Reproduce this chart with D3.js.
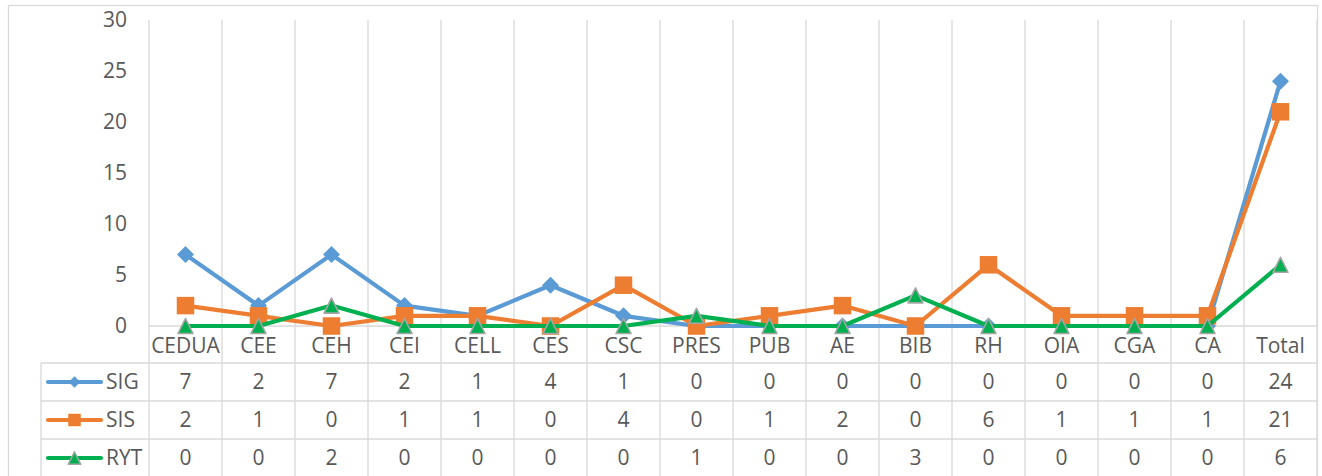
<!DOCTYPE html>
<html>
<head>
<meta charset="utf-8">
<script src="https://cdn.jsdelivr.net/npm/d3@7"></script>
<style>
  html, body { margin: 0; padding: 0; background: #fff; }
  svg { display: block; font-family: "Open Sans", "Noto Sans", sans-serif; }
  .lbl { fill: #595959; font-size: 21px; }
</style>
</head>
<body>
<div id="chart"></div>
<script>
// chart data
const categories = ["CEDUA", "CEE", "CEH", "CEI", "CELL", "CES", "CSC", "PRES", "PUB", "AE", "BIB", "RH", "OIA", "CGA", "CA", "Total"];
const sigValues = [7, 2, 7, 2, 1, 4, 1, 0, 0, 0, 0, 0, 0, 0, 0, 24];
const sisValues = [2, 1, 0, 1, 1, 0, 4, 0, 1, 2, 0, 6, 1, 1, 1, 21];
const rytValues = [0, 0, 2, 0, 0, 0, 0, 1, 0, 0, 3, 0, 0, 0, 0, 6];
const yTicks = [0, 5, 10, 15, 20, 25, 30];

const series = [
  { name: "SIG", values: sigValues, color: "#5B9BD5", marker: "diamond" },
  { name: "SIS", values: sisValues, color: "#ED7D31", marker: "square" },
  { name: "RYT", values: rytValues, color: "#00B050", marker: "triangle" },
];

const width = 1322, height = 476;
const plotLeft = 149, plotRight = 1317, plotTop = 20, plotBottom = 326;
const tableLeft = 41, rowH = 38, labelRowBottom = 363;
const grid = "#D9D9D9";

const svg = d3.select("#chart").append("svg")
  .attr("width", width).attr("height", height)
  .attr("viewBox", [0, 0, width, height]);

// outer chart border
svg.append("rect")
  .attr("x", 8.5).attr("y", 5.5)
  .attr("width", plotRight - 8).attr("height", height + 10)
  .attr("fill", "none").attr("stroke", grid).attr("stroke-width", 1.3);

const x = d3.scaleBand(categories, [plotLeft, plotRight]).padding(0);
const y = d3.scaleLinear([0, 30], [plotBottom, plotTop]);
const cx = (c) => x(c) + x.bandwidth() / 2;

// vertical gridlines (category boundaries), running down through the table
const bounds = categories.map((c) => x(c)).concat([plotRight]);
svg.append("g").selectAll("line").data(bounds).join("line")
  .attr("x1", (d) => d).attr("x2", (d) => d)
  .attr("y1", plotTop).attr("y2", height)
  .attr("stroke", grid).attr("stroke-width", 1.3);

// table horizontal lines
const tableRows = series.map((s, i) => labelRowBottom + i * rowH);
svg.append("g").selectAll("line").data(tableRows.concat([labelRowBottom + 3 * rowH])).join("line")
  .attr("x1", tableLeft).attr("x2", plotRight)
  .attr("y1", (d) => d).attr("y2", (d) => d)
  .attr("stroke", grid).attr("stroke-width", 1.3);
svg.append("line")
  .attr("x1", tableLeft).attr("x2", tableLeft)
  .attr("y1", labelRowBottom).attr("y2", height)
  .attr("stroke", grid).attr("stroke-width", 1.3);

// category axis line
svg.append("line")
  .attr("x1", plotLeft).attr("x2", plotRight)
  .attr("y1", y(0)).attr("y2", y(0))
  .attr("stroke", grid).attr("stroke-width", 1.3);

// y axis tick labels
svg.append("g").selectAll("text").data(yTicks).join("text")
  .attr("class", "lbl")
  .attr("x", 127).attr("y", (d) => y(d))
  .attr("dy", "0.35em").attr("text-anchor", "end")
  .text((d) => d);

// category labels
svg.append("g").selectAll("text").data(categories).join("text")
  .attr("class", "lbl")
  .attr("x", cx).attr("y", (plotBottom + labelRowBottom) / 2 + 1)
  .attr("dy", "0.35em").attr("text-anchor", "middle")
  .text((d) => d);

// marker widths in px: plot and legend keys
const plotWidths = { diamond: 17, square: 17.5, triangle: 15 };
const keyWidths = { diamond: 11.5, square: 12.5, triangle: 12.5 };

// Excel-style triangle: as tall as it is wide, centred on its box
const symbolTriangleBox = {
  draw(context, size) {
    const r = Math.sqrt(size) / 2;
    context.moveTo(0, -r);
    context.lineTo(r, r);
    context.lineTo(-r, r);
    context.closePath();
  },
};

// d3 symbol size (area) from the wanted width
const symbolInfo = {
  diamond: { type: d3.symbolDiamond2, k: 2 * 0.62625 },
  square: { type: d3.symbolSquare2, k: 2 * 0.4431 },
  triangle: { type: symbolTriangleBox, k: 1 },
};

function drawMarker(g, s, px, py, widths) {
  const info = symbolInfo[s.marker];
  const root = widths[s.marker] / info.k;
  const m = g.append("path")
    .attr("d", d3.symbol(info.type, root * root)())
    .attr("transform", `translate(${px},${py})`)
    .attr("fill", s.color);
  if (s.marker === "triangle") m.attr("stroke", "#A5A5A5").attr("stroke-width", 1.6).attr("stroke-linejoin", "round");
}

// lines and markers
const line = d3.line().x((d, i) => cx(categories[i])).y((d) => y(d));
series.forEach((s) => {
  const g = svg.append("g");
  g.append("path")
    .attr("d", line(s.values))
    .attr("fill", "none").attr("stroke", s.color)
    .attr("stroke-width", 4.2).attr("stroke-linejoin", "round").attr("stroke-linecap", "round");
  s.values.forEach((v, i) => drawMarker(g, s, cx(categories[i]), y(v), plotWidths));
});

// data table rows
series.forEach((s, r) => {
  const rowY = labelRowBottom + r * rowH + rowH / 2;
  const g = svg.append("g");
  g.append("line")
    .attr("x1", 48).attr("x2", 101).attr("y1", rowY).attr("y2", rowY)
    .attr("stroke", s.color).attr("stroke-width", 4.2).attr("stroke-linecap", "round");
  drawMarker(g, s, 74.5, rowY, keyWidths);
  g.append("text").attr("class", "lbl")
    .attr("x", 106).attr("y", rowY).attr("dy", "0.35em")
    .text(s.name);
  g.selectAll("text.val").data(s.values).join("text")
    .attr("class", "lbl val")
    .attr("x", (d, i) => cx(categories[i])).attr("y", rowY)
    .attr("dy", "0.35em").attr("text-anchor", "middle")
    .text((d) => d);
});
</script>
</body>
</html>
